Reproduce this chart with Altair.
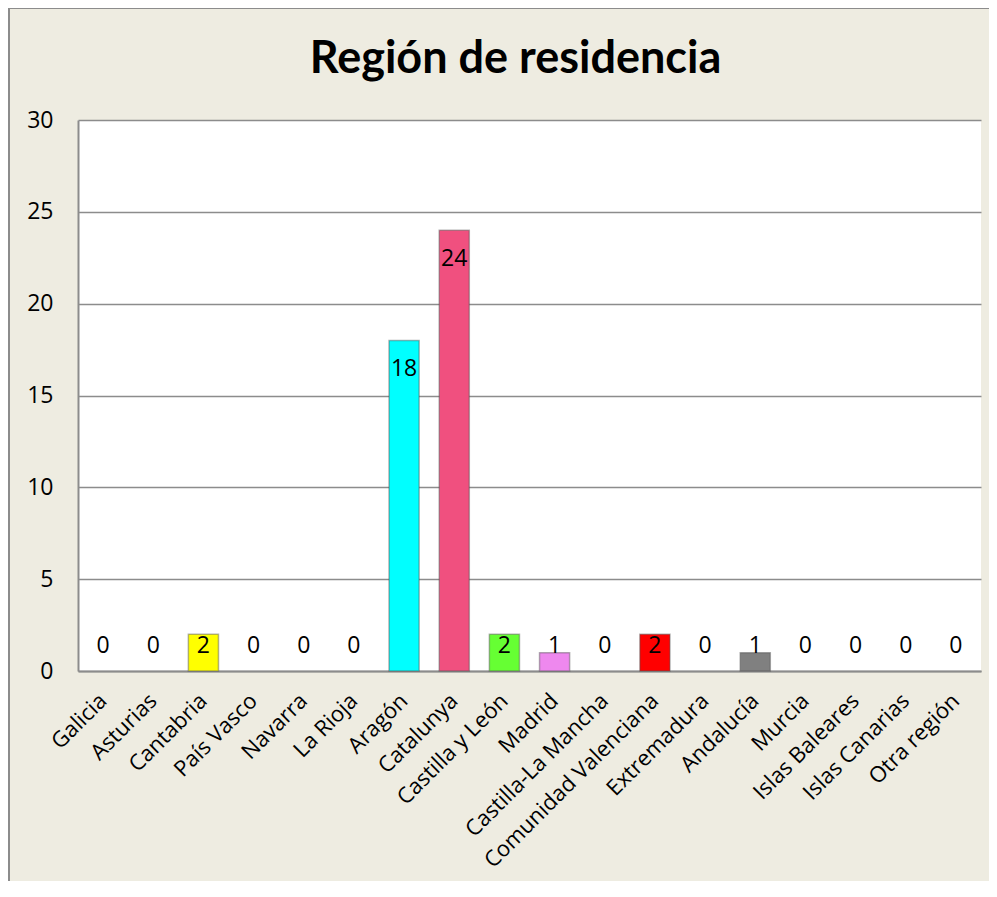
import altair as alt
import pandas as pd

regions = ["Galicia", "Asturias", "Cantabria", "País Vasco", "Navarra", "La Rioja",
           "Aragón", "Catalunya", "Castilla y León", "Madrid", "Castilla-La Mancha",
           "Comunidad Valenciana", "Extremadura", "Andalucía", "Murcia",
           "Islas Baleares", "Islas Canarias", "Otra región"]
values = [0, 0, 2, 0, 0, 0, 18, 24, 2, 1, 0, 2, 0, 1, 0, 0, 0, 0]
colors = ["#4F81BD", "#C0504D", "#FFFF00", "#9BBB59", "#8064A2", "#4BACC6",
          "#00FFFF", "#F0507F", "#66FF33", "#EE88EE", "#F79646", "#FF0000",
          "#2C4D75", "#808080", "#772C2A", "#5F7530", "#4D3B62", "#276A7C"]
y_ticks = [0, 5, 10, 15, 20, 25, 30]

df = pd.DataFrame({"region": regions, "value": values})

BG = "#EEECE1"
GRID = "#8C8C8C"
FONT = "Open Sans"

x_enc = alt.X("region:N", sort=regions, title=None,
              scale=alt.Scale(paddingInner=0.4, paddingOuter=0.2),
              axis=alt.Axis(labelAngle=-45, labelAlign="right", labelBaseline="middle",
                            labelFontSize=22, labelFont=FONT, labelColor="#000000",
                            labelPadding=26, ticks=False, domainColor=GRID,
                            domainWidth=2, labelOverlap=False, labelLimit=0))
y_enc = alt.Y("value:Q", title=None,
              scale=alt.Scale(domain=[0, 30]),
              axis=alt.Axis(values=y_ticks, labelFontSize=23, labelFont=FONT,
                            labelColor="#000000", labelPadding=25, ticks=False,
                            domainColor=GRID, domainWidth=2, gridColor=GRID,
                            gridWidth=1.5, grid=True))

bars = alt.Chart(df).transform_filter("datum.value > 0").mark_bar(
    stroke="#555555", strokeOpacity=0.45, strokeWidth=1.5
).encode(
    x=x_enc,
    y=y_enc,
    color=alt.Color("region:N", scale=alt.Scale(domain=regions, range=colors), legend=None),
)

labels = alt.Chart(df).transform_calculate(
    ly="max(datum.value, 2.95)"
).mark_text(baseline="middle", align="center", dy=29, fontSize=23, font=FONT, color="#000000").encode(
    x=alt.X("region:N", sort=regions),
    y=alt.Y("ly:Q"),
    text=alt.Text("value:Q"),
)

frame_left = alt.Chart(df).mark_rule(color="#8C8C8C", strokeWidth=2).encode(
    x=alt.value(-69), y=alt.value(-112), y2=alt.value(770)
)
frame_top = alt.Chart(df).mark_rule(color="#8C8C8C", strokeWidth=2).encode(
    x=alt.value(-70), x2=alt.value(920), y=alt.value(-112)
)

chart = alt.layer(bars, labels, frame_left, frame_top).properties(
    width=903, height=551,
    title=alt.TitleParams("Región de residencia", fontSize=45, font="Lato",
                          fontWeight="bold", color="#000000", anchor="middle",
                          offset=0, dy=75, dx=-14),
    background=BG,
    padding={"left": 70, "top": 112, "right": 8, "bottom": 210},
    autosize=alt.AutoSizeParams(type="none"),
).configure_view(stroke=None, fill="#FFFFFF")

chart.save("out.html", embed_options={"renderer": "svg", "actions": False})
